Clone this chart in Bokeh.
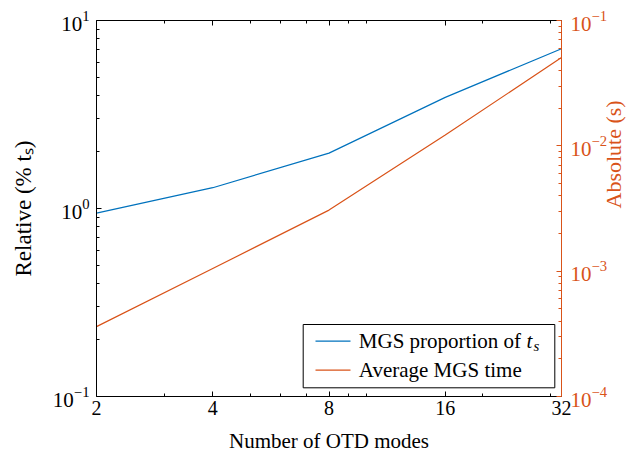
import math
from bokeh.plotting import figure
from bokeh.models import (Range1d, LogScale, LogAxis, FixedTicker, BasicTickFormatter,
                          Label, BoxAnnotation)
from bokeh.embed import file_html
from bokeh.resources import INLINE

# ---------------- data ----------------
modes = [2, 4, 8, 16, 32]
mgs_relative_pct = [0.944, 1.29, 1.97, 3.90, 7.08]
mgs_absolute_s = [3.61e-4, 1.05e-3, 3.07e-3, 1.22e-2, 5.06e-2]

x_ticks = [2, 4, 8, 16, 32]
x_minor_ticks = [3, 5, 6, 7, 9, 10, 20, 30]
left_ticks = [0.1, 1, 10]
right_ticks = [1e-4, 1e-3, 1e-2, 1e-1]

legend_names = ["MGS proportion of ", "Average MGS time"]
legend_sub = ["t", "s"]
x_title = "Number of OTD modes"
left_title = "Relative (% t\u209b)"
right_title = "Absolute (s)"

# ---------------- style ----------------
BLUE = "#0072BD"
ORANGE = "#D95319"
FONT = "Liberation Serif"


def log_minors(lo_exp, hi_exp):
    return [k * 10.0 ** e for e in range(lo_exp, hi_exp) for k in range(2, 10)]


p = figure(width=642, height=455, x_axis_type="log", y_axis_type="log",
           x_range=Range1d(2, 32), y_range=Range1d(0.1, 10),
           output_backend="svg", toolbar_location=None,
           min_border_left=96, min_border_right=81,
           min_border_top=20, min_border_bottom=57)
p.grid.visible = False
p.outline_line_color = None
p.background_fill_color = "white"
p.border_fill_color = "white"

p.extra_y_ranges = {"abs": Range1d(1e-4, 1e-1)}
p.extra_y_scales = {"abs": LogScale()}


def style_axis(ax, color, size, standoff):
    ax.axis_line_color = color
    ax.axis_line_width = 1
    ax.major_tick_line_color = color
    ax.minor_tick_line_color = color
    ax.major_tick_in = 5
    ax.major_tick_out = 0
    ax.minor_tick_in = 3
    ax.minor_tick_out = 0
    ax.major_label_text_color = color
    ax.major_label_text_font = FONT
    ax.major_label_text_font_size = size
    ax.major_label_standoff = standoff
    ax.axis_label_text_font = FONT
    ax.axis_label_text_font_style = "normal"
    ax.axis_label_text_color = color


xa = p.xaxis[0]
xa.ticker = FixedTicker(ticks=x_ticks, minor_ticks=x_minor_ticks)
xa.formatter = BasicTickFormatter()
style_axis(xa, "black", "20px", 4)
xa.axis_label = x_title
xa.axis_label_text_font_size = "21px"
xa.axis_label_standoff = 11

ya = p.yaxis[0]
ya.ticker = FixedTicker(ticks=left_ticks, minor_ticks=log_minors(-1, 1))
style_axis(ya, "black", "21px", 7)
ya.axis_label = left_title
ya.axis_label_text_font_size = "23px"
ya.axis_label_standoff = 14

ra = LogAxis(y_range_name="abs",
             ticker=FixedTicker(ticks=right_ticks, minor_ticks=log_minors(-4, -1)))
style_axis(ra, ORANGE, "21px", 9)
ra.axis_label = right_title
ra.axis_label_text_font_size = "22px"
ra.axis_label_standoff = 3
try:
    ra.axis_label_orientation = math.pi / 2
except Exception:
    pass
p.add_layout(ra, "right")

ta = LogAxis(ticker=FixedTicker(ticks=x_ticks, minor_ticks=x_minor_ticks),
             formatter=BasicTickFormatter())
style_axis(ta, "black", "0px", 0)
ta.major_label_text_alpha = 0
p.add_layout(ta, "above")

# ---------------- series ----------------
p.line(modes, mgs_relative_pct, line_color=BLUE, line_width=1.2)
p.line(modes, mgs_absolute_s, line_color=ORANGE, line_width=1.2, y_range_name="abs")


# ---------------- legend ----------------
def lab(x, y, text, size, color="black", style="normal"):
    p.add_layout(Label(x=x, y=y, x_units="screen", y_units="screen", text=text,
                       text_align="left", text_baseline="middle",
                       text_font=FONT, text_font_size=size, text_color=color,
                       text_font_style=style))


p.add_layout(BoxAnnotation(left=206.7, right=458.3, bottom=8.7, top=72,
                           left_units="screen", right_units="screen",
                           bottom_units="screen", top_units="screen",
                           fill_color="white", fill_alpha=1.0,
                           line_color="black", line_width=1, line_alpha=1.0))
for yc, col in ((55.3, BLUE), (26.3, ORANGE)):
    p.add_layout(BoxAnnotation(left=219, right=254, bottom=yc - 0.6, top=yc + 0.6,
                               left_units="screen", right_units="screen",
                               bottom_units="screen", top_units="screen",
                               fill_color=col, fill_alpha=1.0, line_color=None))

lab(262.3, 55.3, legend_names[0], "21px")
lab(430, 55.3, legend_sub[0], "21px", style="italic")
lab(437, 50.3, legend_sub[1], "15px", style="italic")
lab(262.3, 26.3, legend_names[1], "21px")

open("out.html", "w").write(file_html(p, INLINE))
